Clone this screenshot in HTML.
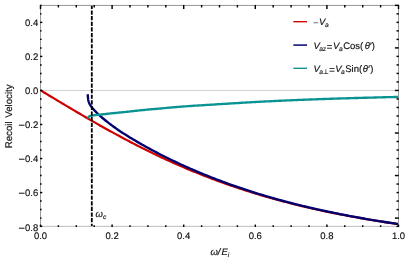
<!DOCTYPE html>
<html><head><meta charset="utf-8"><title>Recoil Velocity</title>
<style>
html,body{margin:0;padding:0;background:#fff;}
svg{display:block;}
text{font-family:"Liberation Sans",sans-serif;font-size:9.5px;fill:#111;stroke:#111;stroke-width:0.16px;text-rendering:geometricPrecision;}
.it{font-style:italic;}
.sub{font-size:6.6px;}
</style></head>
<body>
<svg width="409" height="261" viewBox="0 0 409 261">
<rect x="0" y="0" width="409" height="261" fill="#fff"/>
<!-- zero axis -->
<line x1="40.5" y1="90.45" x2="398.5" y2="90.45" stroke="#d0d0d0" stroke-width="1"/>
<!-- curves -->
<g fill="none" stroke-linejoin="round" stroke-linecap="butt" stroke-width="2.2">
<clipPath id="cp"><rect x="40.5" y="5.45" width="358.0" height="220.9"/></clipPath>
<g clip-path="url(#cp)">
<path d="M40.50,90.30 L42.29,91.38 L44.08,92.46 L45.87,93.54 L47.66,94.62 L49.45,95.69 L51.24,96.77 L53.03,97.85 L54.82,98.92 L56.61,100.00 L58.40,101.07 L60.19,102.15 L61.98,103.22 L63.77,104.29 L65.56,105.35 L67.35,106.42 L69.14,107.48 L70.93,108.55 L72.72,109.61 L74.51,110.66 L76.30,111.72 L78.09,112.77 L79.88,113.82 L81.67,114.87 L83.46,115.91 L85.25,116.96 L87.04,117.99 L88.83,119.03 L90.62,120.06 L92.41,121.09 L94.20,122.12 L95.99,123.14 L97.78,124.16 L99.57,125.17 L101.36,126.18 L103.15,127.19 L104.94,128.19 L106.73,129.19 L108.52,130.18 L110.31,131.17 L112.10,132.16 L113.89,133.14 L115.68,134.12 L117.47,135.09 L119.26,136.06 L121.05,137.02 L122.84,137.98 L124.63,138.93 L126.42,139.88 L128.21,140.82 L130.00,141.76 L131.79,142.70 L133.58,143.62 L135.37,144.55 L137.16,145.46 L138.95,146.38 L140.74,147.28 L142.53,148.18 L144.32,149.08 L146.11,149.97 L147.90,150.85 L149.69,151.73 L151.48,152.61 L153.27,153.48 L155.06,154.34 L156.85,155.20 L158.64,156.05 L160.43,156.89 L162.22,157.73 L164.01,158.57 L165.80,159.39 L167.59,160.22 L169.38,161.03 L171.17,161.84 L172.96,162.65 L174.75,163.45 L176.54,164.24 L178.33,165.03 L180.12,165.81 L181.91,166.58 L183.70,167.35 L185.49,168.12 L187.28,168.88 L189.07,169.63 L190.86,170.37 L192.65,171.11 L194.44,171.85 L196.23,172.58 L198.02,173.30 L199.81,174.02 L201.60,174.73 L203.39,175.44 L205.18,176.13 L206.97,176.83 L208.76,177.52 L210.55,178.20 L212.34,178.88 L214.13,179.55 L215.92,180.21 L217.71,180.87 L219.50,181.53 L221.29,182.18 L223.08,182.82 L224.87,183.46 L226.66,184.09 L228.45,184.72 L230.24,185.34 L232.03,185.95 L233.82,186.56 L235.61,187.17 L237.40,187.77 L239.19,188.36 L240.98,188.95 L242.77,189.54 L244.56,190.11 L246.35,190.69 L248.14,191.26 L249.93,191.82 L251.72,192.38 L253.51,192.93 L255.30,193.48 L257.09,194.02 L258.88,194.56 L260.67,195.09 L262.46,195.62 L264.25,196.14 L266.04,196.66 L267.83,197.18 L269.62,197.68 L271.41,198.19 L273.20,198.69 L274.99,199.18 L276.78,199.67 L278.57,200.16 L280.36,200.64 L282.15,201.12 L283.94,201.59 L285.73,202.06 L287.52,202.52 L289.31,202.98 L291.10,203.44 L292.89,203.89 L294.68,204.33 L296.47,204.78 L298.26,205.22 L300.05,205.65 L301.84,206.08 L303.63,206.50 L305.42,206.93 L307.21,207.34 L309.00,207.76 L310.79,208.17 L312.58,208.58 L314.37,208.98 L316.16,209.38 L317.95,209.77 L319.74,210.16 L321.53,210.55 L323.32,210.93 L325.11,211.31 L326.90,211.69 L328.69,212.06 L330.48,212.43 L332.27,212.80 L334.06,213.16 L335.85,213.52 L337.64,213.88 L339.43,214.23 L341.22,214.58 L343.01,214.92 L344.80,215.27 L346.59,215.60 L348.38,215.94 L350.17,216.27 L351.96,216.60 L353.75,216.93 L355.54,217.25 L357.33,217.57 L359.12,217.89 L360.91,218.21 L362.70,218.52 L364.49,218.83 L366.28,219.13 L368.07,219.44 L369.86,219.74 L371.65,220.03 L373.44,220.33 L375.23,220.62 L377.02,220.91 L378.81,221.19 L380.60,221.48 L382.39,221.76 L384.18,222.04 L385.97,222.31 L387.76,222.59 L389.55,222.86 L391.34,223.13 L393.13,223.39 L394.92,223.66 L396.71,223.92 L398.50,224.17" stroke="#cc0000"/>
<path d="M87.60,94.30 L87.85,95.91 L87.94,97.09 L88.03,98.05 L88.12,98.85 L88.21,99.51 L88.30,100.04 L88.39,100.48 L88.48,100.88 L88.57,101.25 L88.66,101.58 L88.75,101.89 L88.83,102.17 L88.92,102.43 L89.01,102.67 L89.10,102.89 L89.19,103.10 L89.28,103.29 L89.37,103.48 L89.46,103.66 L89.55,103.84 L89.64,104.00 L89.73,104.17 L89.82,104.32 L89.91,104.48 L90.00,104.63 L90.09,104.77 L90.18,104.92 L90.27,105.06 L90.36,105.20 L90.45,105.34 L90.53,105.48 L90.62,105.61 L90.71,105.75 L90.80,105.88 L90.89,106.00 L90.98,106.13 L91.07,106.26 L91.16,106.38 L91.25,106.50 L91.34,106.62 L91.43,106.74 L91.52,106.86 L91.61,106.98 L91.70,107.10 L91.79,107.21 L91.88,107.33 L91.97,107.44 L92.06,107.56 L92.15,107.67 L92.24,107.78 L92.33,107.90 L92.41,108.01 L92.50,108.12 L92.59,108.23 L92.68,108.34 L92.77,108.44 L92.86,108.55 L92.95,108.66 L93.04,108.76 L93.13,108.87 L93.22,108.97 L93.31,109.08 L93.40,109.18 L93.49,109.28 L93.58,109.39 L93.67,109.49 L93.76,109.59 L93.85,109.69 L93.94,109.79 L94.03,109.89 L94.11,109.99 L94.20,110.09 L94.29,110.19 L94.38,110.29 L94.47,110.39 L94.56,110.48 L94.65,110.58 L94.74,110.68 L94.83,110.77 L94.92,110.87 L95.01,110.96 L95.10,111.06 L95.19,111.15 L95.28,111.25 L95.37,111.34 L95.46,111.44 L95.55,111.53 L95.64,111.62 L95.73,111.72 L95.82,111.81 L95.91,111.90 L95.99,111.99 L96.08,112.08 L96.17,112.18 L96.26,112.27 L96.35,112.36 L96.44,112.45 L96.53,112.54 L96.62,112.63 L96.71,112.71 L96.80,112.80 L96.89,112.89 L96.98,112.98 L97.07,113.07 L97.16,113.16 L97.25,113.24 L97.34,113.33 L97.43,113.42 L97.52,113.50 L97.61,113.59 L97.69,113.68 L97.78,113.76 L97.87,113.85 L97.96,113.93 L98.05,114.02 L98.14,114.10 L98.23,114.19 L98.32,114.27 L98.41,114.36 L98.50,114.44 L98.59,114.53 L100.10,115.90 L101.60,117.23 L103.11,118.50 L104.62,119.75 L106.13,120.99 L107.63,122.20 L109.14,123.40 L110.65,124.55 L112.15,125.67 L113.66,126.76 L115.17,127.83 L116.68,128.88 L118.18,129.91 L119.69,130.92 L121.20,131.92 L122.70,132.91 L124.21,133.88 L125.72,134.84 L127.22,135.78 L128.73,136.72 L130.24,137.64 L131.75,138.56 L133.25,139.46 L134.76,140.36 L136.27,141.24 L137.77,142.12 L139.28,142.99 L140.79,143.86 L142.30,144.71 L143.80,145.56 L145.31,146.41 L146.82,147.24 L148.32,148.07 L149.83,148.89 L151.34,149.70 L152.85,150.51 L154.35,151.31 L155.86,152.11 L157.37,152.90 L158.87,153.68 L160.38,154.45 L161.89,155.22 L163.39,155.99 L164.90,156.75 L166.41,157.50 L167.92,158.25 L169.42,158.99 L170.93,159.72 L172.44,160.45 L173.94,161.17 L175.45,161.89 L176.96,162.60 L178.47,163.31 L179.97,164.01 L181.48,164.70 L182.99,165.39 L184.49,166.07 L186.00,166.75 L187.51,167.42 L189.02,168.08 L190.52,168.75 L192.03,169.40 L193.54,170.05 L195.04,170.70 L196.55,171.34 L198.06,171.98 L199.56,172.61 L201.07,173.23 L202.58,173.85 L204.09,174.47 L205.59,175.08 L207.10,175.69 L208.61,176.29 L210.11,176.89 L211.62,177.49 L213.13,178.08 L214.64,178.66 L216.14,179.24 L217.65,179.82 L219.16,180.39 L220.66,180.96 L222.17,181.52 L223.68,182.08 L225.19,182.63 L226.69,183.18 L228.20,183.73 L229.71,184.27 L231.21,184.81 L232.72,185.34 L234.23,185.87 L235.73,186.40 L237.24,186.92 L238.75,187.44 L240.26,187.95 L241.76,188.46 L243.27,188.96 L244.78,189.46 L246.28,189.96 L247.79,190.45 L249.30,190.94 L250.81,191.43 L252.31,191.91 L253.82,192.39 L255.33,192.86 L256.83,193.33 L258.34,193.79 L259.85,194.26 L261.36,194.71 L262.86,195.17 L264.37,195.62 L265.88,196.07 L267.38,196.51 L268.89,196.95 L270.40,197.39 L271.90,197.82 L273.41,198.25 L274.92,198.67 L276.43,199.09 L277.93,199.51 L279.44,199.93 L280.95,200.34 L282.45,200.75 L283.96,201.16 L285.47,201.56 L286.98,201.96 L288.48,202.35 L289.99,202.74 L291.50,203.13 L293.00,203.52 L294.51,203.90 L296.02,204.28 L297.53,204.66 L299.03,205.03 L300.54,205.40 L302.05,205.77 L303.55,206.13 L305.06,206.49 L306.57,206.85 L308.07,207.21 L309.58,207.56 L311.09,207.91 L312.60,208.26 L314.10,208.60 L315.61,208.94 L317.12,209.28 L318.62,209.62 L320.13,209.95 L321.64,210.28 L323.15,210.61 L324.65,210.93 L326.16,211.26 L327.67,211.58 L329.17,211.89 L330.68,212.21 L332.19,212.52 L333.70,212.83 L335.20,213.14 L336.71,213.44 L338.22,213.74 L339.72,214.04 L341.23,214.34 L342.74,214.64 L344.24,214.93 L345.75,215.22 L347.26,215.51 L348.77,215.79 L350.27,216.08 L351.78,216.36 L353.29,216.63 L354.79,216.91 L356.30,217.19 L357.81,217.46 L359.32,217.73 L360.82,217.99 L362.33,218.26 L363.84,218.52 L365.34,218.79 L366.85,219.04 L368.36,219.30 L369.87,219.56 L371.37,219.81 L372.88,220.06 L374.39,220.31 L375.89,220.56 L377.40,220.80 L378.91,221.05 L380.41,221.29 L381.92,221.53 L383.43,221.76 L384.94,222.00 L386.44,222.23 L387.95,222.47 L389.46,222.70 L390.96,222.93 L392.47,223.15 L393.98,223.38 L395.49,223.60 L396.99,223.82 L398.50,224.04" stroke="#00006e" stroke-width="2.35"/>
<path d="M87.95,118.50 L88.04,118.04 L88.13,117.72 L88.22,117.49 L88.31,117.30 L88.40,117.14 L88.49,117.02 L88.58,116.91 L88.67,116.81 L88.76,116.72 L88.84,116.64 L88.93,116.57 L89.02,116.51 L89.11,116.45 L89.20,116.40 L89.29,116.35 L89.38,116.31 L89.47,116.27 L89.56,116.23 L89.65,116.20 L89.74,116.17 L89.83,116.14 L89.92,116.11 L90.01,116.08 L90.10,116.05 L90.19,116.03 L90.28,116.01 L90.37,115.98 L90.46,115.96 L90.55,115.94 L90.64,115.92 L90.72,115.90 L90.81,115.88 L90.90,115.86 L90.99,115.85 L91.08,115.83 L91.17,115.81 L91.26,115.80 L91.35,115.78 L91.44,115.77 L91.53,115.75 L91.62,115.73 L91.71,115.72 L91.80,115.70 L91.89,115.68 L91.98,115.67 L92.07,115.65 L92.16,115.63 L92.25,115.62 L92.34,115.60 L92.43,115.58 L92.51,115.57 L92.60,115.55 L92.69,115.53 L92.78,115.52 L92.87,115.50 L92.96,115.48 L93.05,115.47 L93.14,115.45 L93.23,115.44 L93.32,115.42 L93.41,115.40 L93.50,115.39 L93.59,115.37 L93.68,115.36 L93.77,115.34 L93.86,115.33 L93.95,115.31 L94.04,115.30 L94.13,115.28 L94.22,115.27 L94.30,115.25 L94.39,115.24 L94.48,115.23 L94.57,115.21 L94.66,115.20 L94.75,115.19 L94.84,115.17 L94.93,115.16 L95.02,115.15 L95.11,115.13 L95.20,115.12 L95.29,115.11 L95.38,115.10 L95.47,115.09 L95.56,115.08 L95.65,115.06 L95.74,115.05 L95.83,115.04 L95.92,115.03 L96.00,115.02 L96.09,115.01 L96.18,115.00 L96.27,114.99 L96.36,114.98 L96.45,114.97 L96.54,114.96 L96.63,114.95 L96.72,114.94 L96.81,114.93 L96.90,114.92 L96.99,114.91 L97.08,114.90 L97.17,114.89 L97.26,114.88 L97.35,114.87 L97.44,114.86 L97.53,114.85 L97.62,114.84 L97.71,114.83 L97.80,114.82 L97.88,114.81 L97.97,114.80 L98.06,114.79 L98.15,114.78 L98.24,114.77 L98.33,114.76 L98.42,114.75 L98.51,114.74 L98.60,114.73 L98.69,114.72 L100.20,114.57 L101.70,114.42 L103.21,114.28 L104.72,114.13 L106.22,113.96 L107.73,113.78 L109.24,113.60 L110.74,113.43 L112.25,113.27 L113.76,113.11 L115.26,112.96 L116.77,112.81 L118.28,112.67 L119.78,112.52 L121.29,112.37 L122.80,112.23 L124.30,112.07 L125.81,111.91 L127.32,111.75 L128.82,111.58 L130.33,111.41 L131.83,111.24 L133.34,111.07 L134.85,110.90 L136.35,110.74 L137.86,110.57 L139.37,110.41 L140.87,110.26 L142.38,110.11 L143.89,109.97 L145.39,109.82 L146.90,109.68 L148.41,109.54 L149.91,109.41 L151.42,109.27 L152.93,109.13 L154.43,109.00 L155.94,108.86 L157.45,108.73 L158.95,108.59 L160.46,108.46 L161.97,108.32 L163.47,108.18 L164.98,108.05 L166.49,107.91 L167.99,107.77 L169.50,107.63 L171.01,107.50 L172.51,107.37 L174.02,107.24 L175.53,107.11 L177.03,106.98 L178.54,106.86 L180.05,106.75 L181.55,106.63 L183.06,106.52 L184.57,106.41 L186.07,106.31 L187.58,106.20 L189.08,106.10 L190.59,105.99 L192.10,105.89 L193.60,105.79 L195.11,105.70 L196.62,105.60 L198.12,105.50 L199.63,105.41 L201.14,105.31 L202.64,105.22 L204.15,105.12 L205.66,105.03 L207.16,104.94 L208.67,104.85 L210.18,104.75 L211.68,104.66 L213.19,104.57 L214.70,104.48 L216.20,104.39 L217.71,104.29 L219.22,104.20 L220.72,104.10 L222.23,104.01 L223.74,103.92 L225.24,103.82 L226.75,103.73 L228.26,103.63 L229.76,103.54 L231.27,103.44 L232.78,103.35 L234.28,103.25 L235.79,103.16 L237.30,103.07 L238.80,102.97 L240.31,102.88 L241.82,102.79 L243.32,102.70 L244.83,102.61 L246.34,102.52 L247.84,102.43 L249.35,102.34 L250.85,102.25 L252.36,102.17 L253.87,102.08 L255.37,102.00 L256.88,101.92 L258.39,101.84 L259.89,101.76 L261.40,101.68 L262.91,101.60 L264.41,101.52 L265.92,101.45 L267.43,101.37 L268.93,101.30 L270.44,101.22 L271.95,101.15 L273.45,101.07 L274.96,101.00 L276.47,100.93 L277.97,100.86 L279.48,100.79 L280.99,100.72 L282.49,100.65 L284.00,100.58 L285.51,100.51 L287.01,100.45 L288.52,100.38 L290.03,100.32 L291.53,100.25 L293.04,100.19 L294.55,100.12 L296.05,100.06 L297.56,100.00 L299.07,99.94 L300.57,99.88 L302.08,99.82 L303.59,99.76 L305.09,99.70 L306.60,99.64 L308.11,99.58 L309.61,99.53 L311.12,99.47 L312.62,99.41 L314.13,99.36 L315.64,99.30 L317.14,99.25 L318.65,99.20 L320.16,99.14 L321.66,99.09 L323.17,99.04 L324.68,98.99 L326.18,98.93 L327.69,98.88 L329.20,98.83 L330.70,98.78 L332.21,98.73 L333.72,98.68 L335.22,98.63 L336.73,98.59 L338.24,98.54 L339.74,98.49 L341.25,98.44 L342.76,98.40 L344.26,98.35 L345.77,98.30 L347.28,98.26 L348.78,98.22 L350.29,98.17 L351.80,98.13 L353.30,98.09 L354.81,98.04 L356.32,98.00 L357.82,97.96 L359.33,97.92 L360.84,97.88 L362.34,97.84 L363.85,97.79 L365.36,97.75 L366.86,97.71 L368.37,97.67 L369.87,97.63 L371.38,97.59 L372.89,97.55 L374.39,97.51 L375.90,97.47 L377.41,97.43 L378.91,97.39 L380.42,97.35 L381.93,97.31 L383.43,97.28 L384.94,97.24 L386.45,97.20 L387.95,97.16 L389.46,97.12 L390.97,97.09 L392.47,97.05 L393.98,97.01 L395.49,96.97 L396.99,96.94 L398.50,96.90" stroke="#0a9393" stroke-width="2.35"/>
</g>
</g>
<!-- dashed cutoff line -->
<line x1="91.8" y1="5.45" x2="91.8" y2="226.35" stroke="#000" stroke-width="1.8" stroke-dasharray="4.2 1.41" stroke-dashoffset="0.55"/>
<!-- frame -->
<g stroke-width="0.9" stroke-linecap="square">
<line x1="40.5" y1="5.45" x2="398.5" y2="5.45" stroke="#8a8a8a"/>
<line x1="40.5" y1="5.45" x2="40.5" y2="226.35" stroke="#8e8e8e"/>
<line x1="398.5" y1="5.45" x2="398.5" y2="226.35" stroke="#8e8e8e"/>
<line x1="40.5" y1="226.35" x2="398.5" y2="226.35" stroke="#b4b4b4"/>
</g>
<g stroke="#000" stroke-width="1.45">
<line x1="40.50" y1="226.95" x2="40.50" y2="224.55"/>
<line x1="40.50" y1="4.95" x2="40.50" y2="9.05"/>
<line x1="58.40" y1="226.95" x2="58.40" y2="225.25"/>
<line x1="58.40" y1="4.95" x2="58.40" y2="7.45"/>
<line x1="76.30" y1="226.95" x2="76.30" y2="225.25"/>
<line x1="76.30" y1="4.95" x2="76.30" y2="7.45"/>
<line x1="94.20" y1="226.95" x2="94.20" y2="225.25"/>
<line x1="94.20" y1="4.95" x2="94.20" y2="7.45"/>
<line x1="112.10" y1="226.95" x2="112.10" y2="224.55"/>
<line x1="112.10" y1="4.95" x2="112.10" y2="9.05"/>
<line x1="130.00" y1="226.95" x2="130.00" y2="225.25"/>
<line x1="130.00" y1="4.95" x2="130.00" y2="7.45"/>
<line x1="147.90" y1="226.95" x2="147.90" y2="225.25"/>
<line x1="147.90" y1="4.95" x2="147.90" y2="7.45"/>
<line x1="165.80" y1="226.95" x2="165.80" y2="225.25"/>
<line x1="165.80" y1="4.95" x2="165.80" y2="7.45"/>
<line x1="183.70" y1="226.95" x2="183.70" y2="224.55"/>
<line x1="183.70" y1="4.95" x2="183.70" y2="9.05"/>
<line x1="201.60" y1="226.95" x2="201.60" y2="225.25"/>
<line x1="201.60" y1="4.95" x2="201.60" y2="7.45"/>
<line x1="219.50" y1="226.95" x2="219.50" y2="225.25"/>
<line x1="219.50" y1="4.95" x2="219.50" y2="7.45"/>
<line x1="237.40" y1="226.95" x2="237.40" y2="225.25"/>
<line x1="237.40" y1="4.95" x2="237.40" y2="7.45"/>
<line x1="255.30" y1="226.95" x2="255.30" y2="224.55"/>
<line x1="255.30" y1="4.95" x2="255.30" y2="9.05"/>
<line x1="273.20" y1="226.95" x2="273.20" y2="225.25"/>
<line x1="273.20" y1="4.95" x2="273.20" y2="7.45"/>
<line x1="291.10" y1="226.95" x2="291.10" y2="225.25"/>
<line x1="291.10" y1="4.95" x2="291.10" y2="7.45"/>
<line x1="309.00" y1="226.95" x2="309.00" y2="225.25"/>
<line x1="309.00" y1="4.95" x2="309.00" y2="7.45"/>
<line x1="326.90" y1="226.95" x2="326.90" y2="224.55"/>
<line x1="326.90" y1="4.95" x2="326.90" y2="9.05"/>
<line x1="344.80" y1="226.95" x2="344.80" y2="225.25"/>
<line x1="344.80" y1="4.95" x2="344.80" y2="7.45"/>
<line x1="362.70" y1="226.95" x2="362.70" y2="225.25"/>
<line x1="362.70" y1="4.95" x2="362.70" y2="7.45"/>
<line x1="380.60" y1="226.95" x2="380.60" y2="225.25"/>
<line x1="380.60" y1="4.95" x2="380.60" y2="7.45"/>
<line x1="398.50" y1="226.95" x2="398.50" y2="224.55"/>
<line x1="398.50" y1="4.95" x2="398.50" y2="9.05"/>
<line x1="40.00" y1="226.35" x2="42.30" y2="226.35"/>
<line x1="398.80" y1="226.35" x2="396.50" y2="226.35"/>
<line x1="40.00" y1="218.10" x2="41.60" y2="218.10"/>
<line x1="398.80" y1="218.10" x2="394.90" y2="218.10"/>
<line x1="40.00" y1="209.59" x2="41.60" y2="209.59"/>
<line x1="398.80" y1="209.59" x2="396.50" y2="209.59"/>
<line x1="40.00" y1="201.08" x2="41.60" y2="201.08"/>
<line x1="398.80" y1="201.08" x2="396.50" y2="201.08"/>
<line x1="40.00" y1="192.57" x2="42.30" y2="192.57"/>
<line x1="398.80" y1="192.57" x2="396.50" y2="192.57"/>
<line x1="40.00" y1="184.06" x2="41.60" y2="184.06"/>
<line x1="398.80" y1="184.06" x2="396.50" y2="184.06"/>
<line x1="40.00" y1="175.55" x2="41.60" y2="175.55"/>
<line x1="398.80" y1="175.55" x2="394.90" y2="175.55"/>
<line x1="40.00" y1="167.04" x2="41.60" y2="167.04"/>
<line x1="398.80" y1="167.04" x2="396.50" y2="167.04"/>
<line x1="40.00" y1="158.53" x2="42.30" y2="158.53"/>
<line x1="398.80" y1="158.53" x2="396.50" y2="158.53"/>
<line x1="40.00" y1="150.02" x2="41.60" y2="150.02"/>
<line x1="398.80" y1="150.02" x2="396.50" y2="150.02"/>
<line x1="40.00" y1="141.51" x2="41.60" y2="141.51"/>
<line x1="398.80" y1="141.51" x2="396.50" y2="141.51"/>
<line x1="40.00" y1="133.00" x2="41.60" y2="133.00"/>
<line x1="398.80" y1="133.00" x2="394.90" y2="133.00"/>
<line x1="40.00" y1="124.49" x2="42.30" y2="124.49"/>
<line x1="398.80" y1="124.49" x2="396.50" y2="124.49"/>
<line x1="40.00" y1="115.98" x2="41.60" y2="115.98"/>
<line x1="398.80" y1="115.98" x2="396.50" y2="115.98"/>
<line x1="40.00" y1="107.47" x2="41.60" y2="107.47"/>
<line x1="398.80" y1="107.47" x2="396.50" y2="107.47"/>
<line x1="40.00" y1="98.96" x2="41.60" y2="98.96"/>
<line x1="398.80" y1="98.96" x2="396.50" y2="98.96"/>
<line x1="40.00" y1="90.45" x2="42.30" y2="90.45"/>
<line x1="398.80" y1="90.45" x2="394.90" y2="90.45"/>
<line x1="40.00" y1="81.94" x2="41.60" y2="81.94"/>
<line x1="398.80" y1="81.94" x2="396.50" y2="81.94"/>
<line x1="40.00" y1="73.43" x2="41.60" y2="73.43"/>
<line x1="398.80" y1="73.43" x2="396.50" y2="73.43"/>
<line x1="40.00" y1="64.92" x2="41.60" y2="64.92"/>
<line x1="398.80" y1="64.92" x2="396.50" y2="64.92"/>
<line x1="40.00" y1="56.41" x2="42.30" y2="56.41"/>
<line x1="398.80" y1="56.41" x2="396.50" y2="56.41"/>
<line x1="40.00" y1="47.90" x2="41.60" y2="47.90"/>
<line x1="398.80" y1="47.90" x2="394.90" y2="47.90"/>
<line x1="40.00" y1="39.39" x2="41.60" y2="39.39"/>
<line x1="398.80" y1="39.39" x2="396.50" y2="39.39"/>
<line x1="40.00" y1="30.88" x2="41.60" y2="30.88"/>
<line x1="398.80" y1="30.88" x2="396.50" y2="30.88"/>
<line x1="40.00" y1="22.37" x2="42.30" y2="22.37"/>
<line x1="398.80" y1="22.37" x2="396.50" y2="22.37"/>
<line x1="40.00" y1="13.86" x2="41.60" y2="13.86"/>
<line x1="398.80" y1="13.86" x2="396.50" y2="13.86"/>
<line x1="40.00" y1="5.35" x2="41.60" y2="5.35"/>
<line x1="398.80" y1="5.35" x2="394.90" y2="5.35"/>
</g>
<!-- legend -->
<g fill="none">
<line x1="293.3" y1="21.7" x2="307" y2="21.7" stroke="#cc0000" stroke-width="1.35"/>
<line x1="293.3" y1="45.1" x2="307" y2="45.1" stroke="#14147c" stroke-width="1.6"/>
<line x1="293.3" y1="68.3" x2="307" y2="68.3" stroke="#008c8c" stroke-width="1.3"/>
</g>
<g style="filter:grayscale(1)">
<text x="40.50" y="239.2" text-anchor="middle">0.0</text>
<text x="112.10" y="239.2" text-anchor="middle">0.2</text>
<text x="183.70" y="239.2" text-anchor="middle">0.4</text>
<text x="255.30" y="239.2" text-anchor="middle">0.6</text>
<text x="326.90" y="239.2" text-anchor="middle">0.8</text>
<text x="398.50" y="239.2" text-anchor="middle">1.0</text>
<text x="38.2" y="26.25" text-anchor="end">0.4</text>
<text x="38.2" y="60.25" text-anchor="end">0.2</text>
<text x="38.2" y="94.25" text-anchor="end">0.0</text>
<text x="38.2" y="128.25" text-anchor="end"><tspan style="font-size:11px" dy="0.45">−</tspan><tspan dy="-0.45">0.2</tspan></text>
<text x="38.2" y="162.25" text-anchor="end"><tspan style="font-size:11px" dy="0.45">−</tspan><tspan dy="-0.45">0.4</tspan></text>
<text x="38.2" y="196.25" text-anchor="end"><tspan style="font-size:11px" dy="0.45">−</tspan><tspan dy="-0.45">0.6</tspan></text>
<text x="38.2" y="231.15" text-anchor="end"><tspan style="font-size:11px" dy="0.45">−</tspan><tspan dy="-0.45">0.8</tspan></text>
<!-- axis labels -->
<text transform="translate(12.0,116.35) rotate(-90)" text-anchor="middle" style="font-size:9.7px;word-spacing:0.9px">Recoil Velocity</text>
<text x="210.4" y="255.1"><tspan class="it">ω/</tspan><tspan class="it" dx="1.0">E</tspan><tspan class="it sub" dy="1.6">i</tspan></text>
<text x="95.6" y="216.6"><tspan class="it">ω</tspan><tspan class="it sub" dy="2.2">c</tspan></text>
<text x="313" y="25"><tspan dy="1.0" style="fill:#333;stroke:none">−</tspan><tspan class="it" dy="-1.0" dx="0.5">V</tspan><tspan class="it sub" dy="2.0" dx="-0.4">a</tspan></text>
<text x="313.6" y="48.8"><tspan class="it">V</tspan><tspan class="it sub" dy="2.0" dx="-0.8">az</tspan><tspan dy="-0.8" dx="0.7">=</tspan><tspan class="it" dy="-1.2" dx="0.7">V</tspan><tspan class="it sub" dy="2.0" dx="-0.5">a</tspan><tspan dy="-2.0" dx="0.6">Cos(</tspan><tspan class="it" dx="1.5">θ</tspan>′)</text>
<text x="313.6" y="72.1"><tspan class="it">V</tspan><tspan class="it sub" dy="2.0" dx="-0.8">a</tspan><tspan class="sub" dx="0.1">⊥</tspan><tspan dy="-0.8" dx="0.5">=</tspan><tspan class="it" dy="-1.2" dx="0.5">V</tspan><tspan class="it sub" dy="2.0" dx="-0.6">a</tspan><tspan dy="-2.0" dx="0.6">Sin(</tspan><tspan class="it" dx="0.6">θ</tspan><tspan dx="0.3">′</tspan><tspan dx="0.2">)</tspan></text>
</g>
</svg>
</body></html>
